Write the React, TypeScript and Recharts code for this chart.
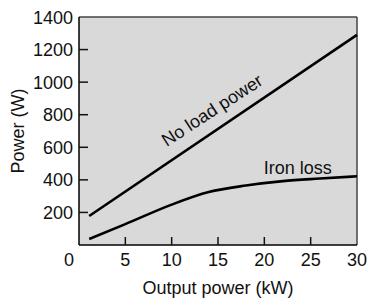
import React from 'react';
import { LineChart, Line, XAxis, YAxis, CartesianGrid, ReferenceLine, ReferenceDot } from 'recharts';

const noLoadX = [1.1, 30];
const noLoadY = [178, 1290];
const ironX = [1.1, 5, 10, 14, 18, 22, 26, 30];
const ironY = [37, 128, 248, 325, 365, 392, 408, 422];

const xTicks = [0, 5, 10, 15, 20, 25, 30];
const yTicks = [0, 200, 400, 600, 800, 1000, 1200, 1400];

const noLoadData = noLoadX.map((x, i) => ({ x, y: noLoadY[i] }));
const ironData = ironX.map((x, i) => ({ x, y: ironY[i] }));

const FONT = 18;

const XTick = (props: any) => {
  const { x, y, payload } = props;
  const v = payload.value;
  return (
    <g>
      {v > 0 && v < 30 && <line x1={x} y1={y} x2={x} y2={y - 8} stroke="#111" strokeWidth={1.5} />}
      <text x={v === 0 ? x - 10 : x} y={y + 20.5} textAnchor="middle" fontSize={FONT} fill="#111">
        {v}
      </text>
    </g>
  );
};

const YTick = (props: any) => {
  const { x, y, payload } = props;
  const v = payload.value;
  if (v === 0) return <g />;
  return (
    <g>
      {v < 1400 && <line x1={x} y1={y} x2={x + 9} y2={y} stroke="#111" strokeWidth={1.5} />}
      <text x={x - 6} y={y + 6.5} textAnchor="end" fontSize={FONT} fill="#111">
        {v}
      </text>
    </g>
  );
};

const App: React.FC = () => {
  return (
    <div style={{ position: 'absolute', left: 0, top: 0, fontFamily: '"Liberation Sans", Arial, sans-serif' }}>
      <LineChart width={371} height={300} margin={{ top: 17, right: 14, left: 0, bottom: 0 }}>
        <CartesianGrid fill="#d9d9d9" stroke="none" horizontal={false} vertical={false} />
        <XAxis
          type="number"
          dataKey="x"
          domain={[0, 30]}
          ticks={xTicks}
          interval={0}
          height={55}
          tickSize={0}
          tickMargin={0}
          tick={<XTick />}
          axisLine={{ stroke: '#000', strokeWidth: 1.5 }}
          label={{ value: 'Output power (kW)', position: 'insideBottom', offset: 6, fontSize: FONT, fill: '#111' }}
        />
        <YAxis
          type="number"
          domain={[0, 1400]}
          ticks={yTicks}
          interval={0}
          width={79}
          tickSize={0}
          tickMargin={0}
          tick={<YTick />}
          axisLine={{ stroke: '#000', strokeWidth: 1.5 }}
          label={{ value: 'Power (W)', angle: -90, position: 'center', dx: -21.5, fontSize: FONT, fill: '#111' }}
        />
        <ReferenceLine y={1400} stroke="#444" strokeWidth={1.5} />
        <ReferenceLine x={30} stroke="#444" strokeWidth={1.5} />
        <Line data={noLoadData} dataKey="y" type="linear" stroke="#000" strokeWidth={2.6} dot={false} isAnimationActive={false} />
        <Line data={ironData} dataKey="y" type="monotone" stroke="#000" strokeWidth={2.6} dot={false} isAnimationActive={false} />
        <ReferenceDot
          x={14.35}
          y={829}
          r={1}
          fill="none"
          stroke="none"
          label={{ value: 'No load power', angle: -33, position: 'center', fontSize: FONT, fill: '#111' }}
        />
        <ReferenceDot
          x={23.6}
          y={473}
          r={1}
          fill="none"
          stroke="none"
          label={{ value: 'Iron loss', position: 'center', fontSize: FONT, fill: '#111' }}
        />
      </LineChart>
    </div>
  );
};

export default App;
